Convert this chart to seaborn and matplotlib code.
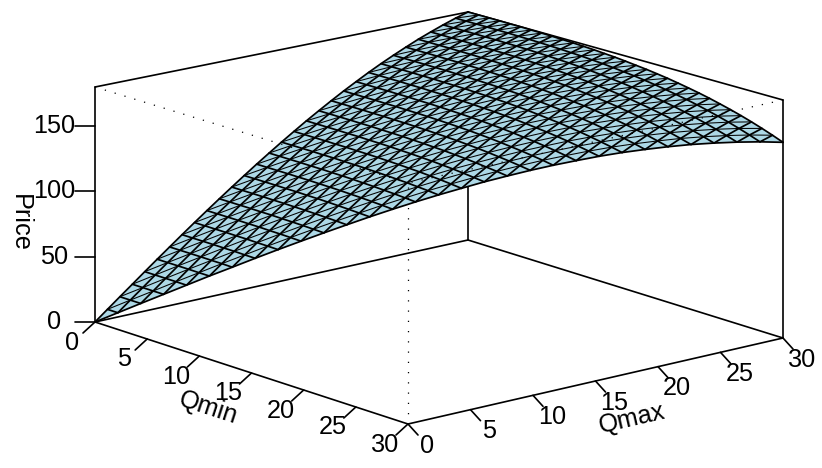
import numpy as np
import pandas as pd
import matplotlib
matplotlib.use("Agg")
import matplotlib.pyplot as plt
import matplotlib.tri as mtri
from matplotlib.colors import ListedColormap
import seaborn as sns

# price along the Qmin = 0 edge, for Qmax = 0..30
price_qmax = [0, 7.6, 15.2, 22.7, 30.3, 37.8, 45.2, 52.6, 59.9, 67.1, 74.2,
              81.2, 88.1, 94.9, 101.5, 108.0, 114.3, 120.5, 126.4, 132.2, 137.8,
              143.1, 148.3, 153.2, 157.8, 162.2, 166.4, 170.2, 173.8, 177.1, 180.0]
# how far the price falls below that edge, for Qmin = 0..30
drop_qmin = [0, 0, 0, 0, 0.1, 0.1, 0.3, 0.4, 0.6, 0.9, 1.2,
             1.6, 2.0, 2.6, 3.2, 4.0, 4.9, 5.8, 6.9, 8.1, 9.5,
             11.0, 12.6, 14.4, 16.4, 18.5, 20.8, 23.3, 26.0, 28.9, 32.0]

q_ticks = [0, 5, 10, 15, 20, 25, 30]
price_ticks = [0, 50, 100, 150]

Q_TOP = 30
Z_TOP = 180

# box corners on the page, (Qmin, Qmax) -> pixel at price 0 and at the top
floor = {(0, 0): (95, 322), (1, 0): (408, 424), (1, 1): (783, 338), (0, 1): (468, 240)}
roof = {(0, 0): (95, 87), (1, 0): (408, 183), (1, 1): (783, 100), (0, 1): (468, 12)}


def project(qmin, qmax, price):
    u = np.asarray(qmin, float) / Q_TOP
    v = np.asarray(qmax, float) / Q_TOP
    w = np.asarray(price, float) / Z_TOP
    out = []
    for i in (0, 1):
        low = (floor[0, 0][i] * (1 - u) * (1 - v) + floor[1, 0][i] * u * (1 - v)
               + floor[1, 1][i] * u * v + floor[0, 1][i] * (1 - u) * v)
        high = (roof[0, 0][i] * (1 - u) * (1 - v) + roof[1, 0][i] * u * (1 - v)
                + roof[1, 1][i] * u * v + roof[0, 1][i] * (1 - u) * v)
        out.append(low * (1 - w) + high * w)
    return out


sns.set_theme(style="white")
plt.rcParams["font.family"] = ["Liberation Sans", "DejaVu Sans"]

fig = plt.figure(figsize=(8.22, 4.68), dpi=100)
ax = fig.add_axes([0, 0, 1, 1])
ax.set_xlim(0, 822)
ax.set_ylim(468, 0)
sns.despine(ax=ax, left=True, bottom=True)
ax.set_xticks([])
ax.set_yticks([])

LW = 1.2


def edge(start, end, z=2, lw=LW, **kw):
    xs, ys = project(*zip(start, end))
    line = pd.DataFrame({"x": xs, "y": ys})
    sns.lineplot(data=line, x="x", y="y", color="black", lw=lw, sort=False,
                 estimator=None, zorder=z, ax=ax, **kw)


# solid box lines behind the surface
edge((0, 0, 0), (0, 30, 0))
edge((0, 30, 0), (30, 30, 0))
edge((0, 30, 0), (0, 30, 180))
edge((0, 0, 180), (0, 30, 180))
edge((0, 30, 180), (30, 30, 180))

# surface, only where Qmin <= Qmax
nodes = {}
qa, qb, zz = [], [], []
for a in range(Q_TOP + 1):
    for b in range(a, Q_TOP + 1):
        nodes[a, b] = len(qa)
        qa.append(a)
        qb.append(b)
        zz.append(price_qmax[b] - drop_qmin[a])

cells = []
for a in range(Q_TOP):
    for b in range(a, Q_TOP):
        cells.append([nodes[a, b], nodes[a, b + 1], nodes[a + 1, b + 1]])
        if a + 1 <= b:
            cells.append([nodes[a, b], nodes[a + 1, b], nodes[a + 1, b + 1]])

px, py = project(qa, qb, zz)
mesh = mtri.Triangulation(px, py, cells)
ax.tripcolor(mesh, facecolors=np.zeros(len(cells)), cmap=ListedColormap(["#ADD8E6"]),
             shading="flat", antialiased=True, zorder=3)

# mesh lines: Qmax fixed, Qmin fixed (heavier), and the thin diagonals
qa, qb, zz = np.array(qa), np.array(qb), np.array(zz)
for k in range(Q_TOP + 1):
    diag_width = 1.25 if k == 0 else 0.75
    for pick, width in [(qb == k, 1.25), (qa == k, 1.25), (qb - qa == k, diag_width)]:
        if pick.sum() > 1:
            lx, ly = project(qa[pick], qb[pick], zz[pick])
            ax.plot(lx, ly, color="black", lw=width, zorder=4)

# front lines of the box
edge((0, 0, 0), (30, 0, 0), z=5)
edge((30, 0, 0), (30, 30, 0), z=5)
edge((0, 0, 0), (0, 0, 180), z=5)
edge((30, 30, 0), (30, 30, 180), z=5)

# hidden lines, dotted
for start, end in [((30, 0, 0), (30, 0, 180)), ((0, 0, 180), (30, 0, 180)), ((30, 30, 180), (30, 0, 180))]:
    xs, ys = project(*zip(start, end))
    ax.plot(xs, ys, color="black", lw=0.9, dashes=(1, 7.2), zorder=6)

# ticks and labels
FS = 18.2
for q in q_ticks:
    x, y = project(q, 0, 0)
    ax.plot([x, x - 12], [y, y + 11], color="black", lw=LW, zorder=5)
    ax.text(x - 23, y + 20.5, str(q), fontsize=FS, ha="center", va="center", color="black")
    x, y = project(30, q, 0)
    ax.plot([x, x + 10], [y, y + 11], color="black", lw=LW, zorder=5)
    ax.text(x + 19, y + 21.7, str(q), fontsize=FS, ha="center", va="center", color="black")

for p in price_ticks:
    x, y = project(0, 0, p)
    ax.plot([x, x - 20], [y, y], color="black", lw=LW, zorder=5)
    ax.text(54, y, str(p), fontsize=FS, ha="center", va="center", color="black")

ax.text(208, 408, "Qmin", fontsize=FS, rotation=-18, ha="center", va="center", rotation_mode="anchor", color="black")
ax.text(632, 419, "Qmax", fontsize=FS, rotation=13, ha="center", va="center", rotation_mode="anchor", color="black")
ax.text(20, 223, "Price", fontsize=FS, rotation=-90, ha="center", va="center", color="black")

ax.set_xlabel("")
ax.set_ylabel("")
fig.savefig("out.png", dpi=100)
